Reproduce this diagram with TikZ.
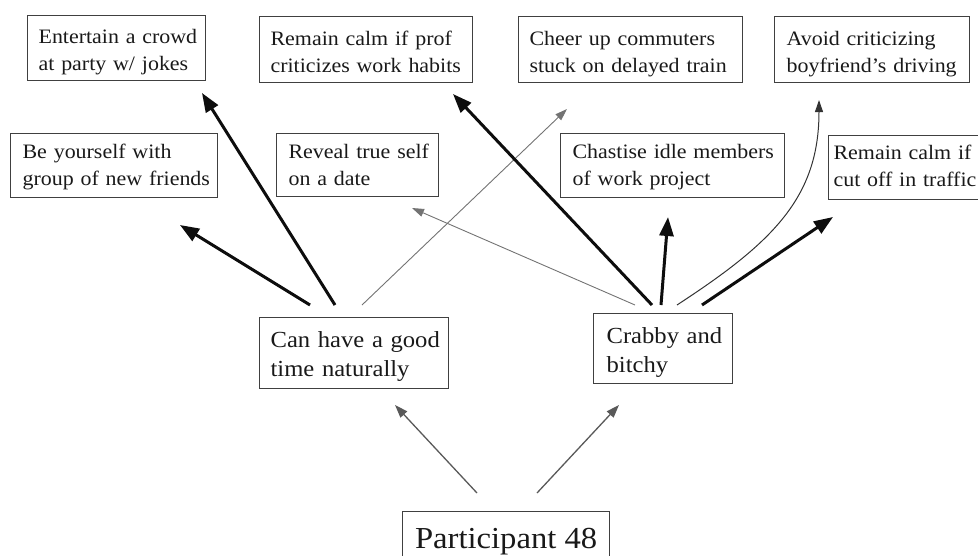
\documentclass[tikz,border=0pt]{standalone}
\usepackage{fontspec}
\setmainfont{Liberation Serif}[FakeStretch=1.07]
\usetikzlibrary{arrows.meta}
\newcommand{\oneline}[1]{\mbox{#1}}
\begin{document}
\begin{tikzpicture}[x=1pt,y=-1pt,
  box/.style={draw=black!75, line width=1.2pt, rectangle, anchor=north west,
    inner ysep=0pt, align=left, text=black!90},
  small/.style={font=\fontsize{20.5}{27.3}\selectfont},
  mid/.style={font=\fontsize{23}{28.5}\selectfont},
  big/.style={font=\fontsize{30.5}{36}\selectfont},
  heavy/.style={line width=3pt, draw=black!95, -{Triangle[length=19pt,width=14pt]}},
  light/.style={line width=0.9pt, draw=black!55, -{Triangle[length=12pt,width=8pt]}},
  lightc/.style={line width=1pt, draw=black!80, -{Triangle[length=12pt,width=8pt]}},
  base/.style={line width=1.3pt, draw=black!65, -{Triangle[length=13pt,width=9pt]}}
]
\useasboundingbox (0,0) rectangle (978,555);
\clip (0,0) rectangle (978,555);

% top row
\node[box, small, text width=156pt, inner xsep=11pt, text height=28pt, text depth=37pt] (ent) at (27,15)
  {\oneline{Entertain a crowd}\\\oneline{at party w/ jokes}};
\node[box, small, text width=191pt, inner xsep=11pt, text height=29pt, text depth=37pt] (prof) at (259,16)
  {\oneline{Remain calm if prof}\\\oneline{criticizes work habits}};
\node[box, small, text width=202pt, inner xsep=11pt, text height=29pt, text depth=37pt] (cheer) at (518,16)
  {\oneline{Cheer up commuters}\\\oneline{stuck on delayed train}};
\node[box, small, text width=171pt, inner xsep=12pt, text height=29pt, text depth=37pt] (avoid) at (774,16)
  {\oneline{Avoid criticizing}\\\oneline{boyfriend's driving}};

% second row
\node[box, small, text width=183pt, inner xsep=12pt, text height=25pt, text depth=39pt] (beyou) at (10,133)
  {\oneline{Be yourself with}\\\oneline{group of new friends}};
\node[box, small, text width=138pt, inner xsep=12pt, text height=25pt, text depth=38pt] (reveal) at (276,133)
  {\oneline{Reveal true self}\\\oneline{on a date}};
\node[box, small, text width=200pt, inner xsep=12pt, text height=25pt, text depth=39pt] (chast) at (560,133)
  {\oneline{Chastise idle members}\\\oneline{of work project}};
\node[box, small, text width=180pt, inner xsep=5pt, text height=24pt, text depth=40pt] (traffic) at (828,135)
  {\oneline{Remain calm if}\\\oneline{cut off in traffic}};

% middle row
\node[box, mid, text width=167pt, inner xsep=11pt, text height=30pt, text depth=41pt] (can) at (259,317)
  {\oneline{Can have a good}\\\oneline{time naturally}};
\node[box, mid, text width=113pt, inner xsep=13pt, text height=30pt, text depth=40pt] (crab) at (593,313)
  {\oneline{Crabby and}\\\oneline{bitchy}};

% bottom
\node[box, big, minimum width=207pt, inner xsep=0pt, text height=37pt, text depth=15pt] (part) at (402,511)
  {Participant 48};

% connector end points
\coordinate (c1s) at (477,493); \coordinate (c1e) at (395,405);
\coordinate (c2s) at (537,493); \coordinate (c2e) at (619,405);

\coordinate (a1s) at (310,305); \coordinate (a1e) at (180,225);
\coordinate (a2s) at (335,305); \coordinate (a2e) at (202,93);
\coordinate (a3s) at (362,305); \coordinate (a3e) at (567,109);

\coordinate (b1s) at (635,305); \coordinate (b1e) at (412,208);
\coordinate (b2s) at (652,305); \coordinate (b2e) at (453,94);
\coordinate (b3s) at (661,305); \coordinate (b3e) at (668,217);
\coordinate (b4s) at (677,305); \coordinate (b4e) at (819,100);
\coordinate (b5s) at (702,305); \coordinate (b5e) at (833,217);

% connectors
\draw[base] (c1s) -- (c1e);
\draw[base] (c2s) -- (c2e);

\draw[heavy] (a1s) -- (a1e);
\draw[heavy] (a2s) -- (a2e);
\draw[light] (a3s) -- (a3e);

\draw[light] (b1s) -- (b1e);
\draw[heavy] (b2s) -- (b2e);
\draw[heavy] (b3s) -- (b3e);
\draw[lightc] (b4s) .. controls (772,243) and (819,198) .. (b4e);
\draw[heavy] (b5s) -- (b5e);
\end{tikzpicture}
\end{document}
